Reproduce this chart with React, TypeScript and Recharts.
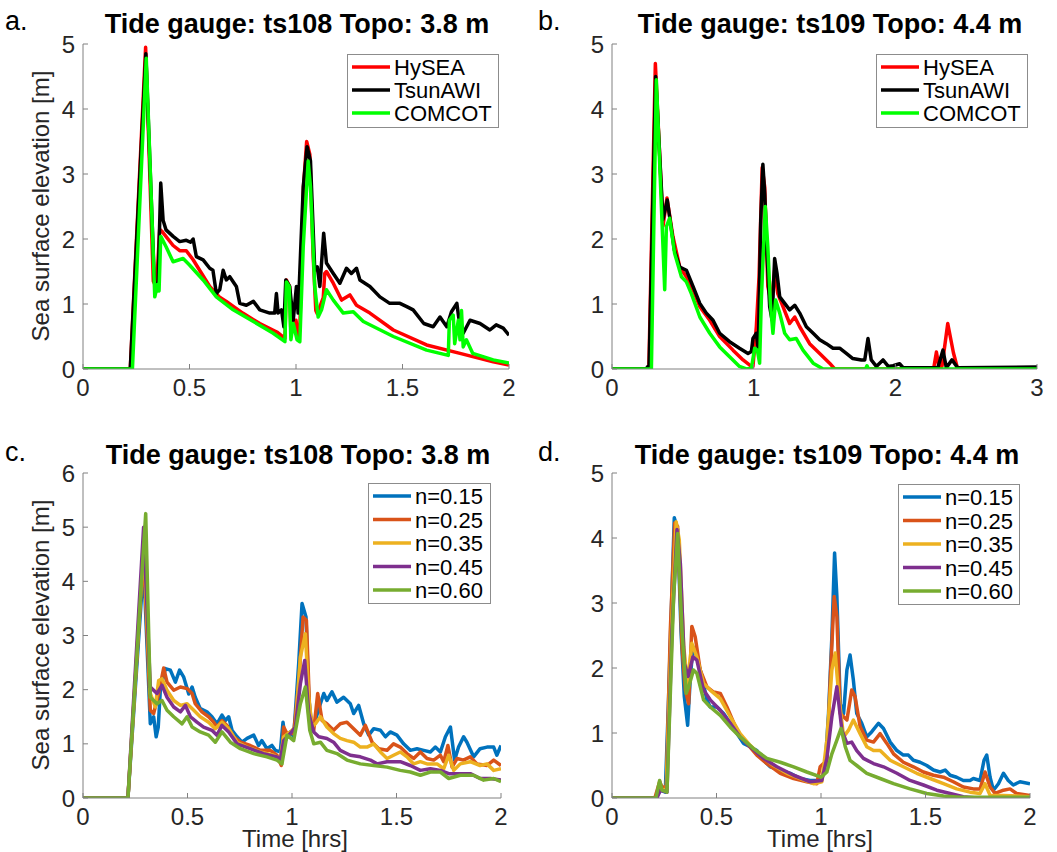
import { Legend, Line, LineChart, XAxis, YAxis } from 'recharts'

type Pt = [number, number]

// ---- panel a: ts108, three models (time [hrs], elevation [m]) ----
const hyseaA: Pt[] = [[0,0],[0.222,0],[0.294,4.95],[0.33,1.35],[0.345,1.25],[0.36,2.15],[0.37,2.12],[0.423,1.9],[0.454,1.82],[0.485,1.82],[0.517,1.68],[0.595,1.27],[0.64,1.11],[0.673,1.04],[0.75,0.86],[0.83,0.7],[0.91,0.57],[0.948,0.47],[0.955,1.37],[0.97,1.27],[0.976,0.55],[0.99,0.65],[1.0,0.75],[1.01,0.5],[1.018,0.6],[1.035,2.8],[1.05,3.5],[1.065,3.3],[1.08,1.78],[1.093,0.9],[1.1,0.85],[1.128,1.1],[1.135,1.47],[1.143,1.5],[1.175,1.32],[1.214,1.06],[1.253,1.14],[1.284,0.98],[1.347,0.86],[1.457,0.6],[1.613,0.37],[1.77,0.24],[1.926,0.11],[2.0,0.06]]
const tsunawiA: Pt[] = [[0,0],[0.222,0],[0.295,4.85],[0.335,1.35],[0.345,1.2],[0.352,1.27],[0.365,2.86],[0.376,2.29],[0.39,2.14],[0.423,2.04],[0.454,1.96],[0.485,1.98],[0.505,1.95],[0.517,2.0],[0.532,1.73],[0.564,1.68],[0.595,1.55],[0.61,1.52],[0.626,1.16],[0.642,1.22],[0.658,1.52],[0.673,1.37],[0.689,1.42],[0.72,1.27],[0.736,1.01],[0.767,0.98],[0.8,1.04],[0.83,0.91],[0.877,0.86],[0.9,0.86],[0.908,1.16],[0.916,0.86],[0.932,0.91],[0.943,0.65],[0.952,1.37],[0.97,1.27],[0.987,0.75],[1.002,1.27],[1.01,0.86],[1.034,2.8],[1.052,3.42],[1.068,3.2],[1.088,1.52],[1.1,1.57],[1.112,1.27],[1.13,2.09],[1.143,1.63],[1.175,1.47],[1.206,1.32],[1.237,1.55],[1.26,1.47],[1.284,1.55],[1.3,1.37],[1.347,1.27],[1.394,1.11],[1.44,1.01],[1.488,1.01],[1.52,0.96],[1.55,0.91],[1.6,0.7],[1.644,0.65],[1.676,0.8],[1.708,0.65],[1.73,0.88],[1.755,1.01],[1.77,0.65],[1.785,0.55],[1.817,0.75],[1.864,0.7],[1.91,0.6],[1.94,0.68],[1.973,0.63],[2.0,0.52]]
const comcotA: Pt[] = [[0,0],[0.232,0],[0.297,4.78],[0.337,1.11],[0.35,1.3],[0.357,1.2],[0.365,2.04],[0.39,1.88],[0.423,1.65],[0.47,1.7],[0.5,1.6],[0.564,1.37],[0.626,1.11],[0.705,0.91],[0.8,0.73],[0.893,0.55],[0.948,0.42],[0.955,1.34],[0.968,1.27],[0.976,0.45],[0.987,0.7],[1.005,0.45],[1.018,0.42],[1.034,1.88],[1.057,3.2],[1.068,2.8],[1.088,1.27],[1.104,0.8],[1.12,0.91],[1.143,1.22],[1.175,1.06],[1.222,0.86],[1.269,0.88],[1.316,0.73],[1.457,0.5],[1.613,0.29],[1.715,0.21],[1.72,0.75],[1.738,0.83],[1.745,0.39],[1.762,0.75],[1.77,0.45],[1.777,0.9],[1.785,0.34],[1.8,0.45],[1.83,0.24],[1.926,0.14],[2.0,0.09]]

// ---- panel b: ts109, three models ----
const hyseaB: Pt[] = [[0,0],[0.26,0],[0.306,4.7],[0.36,2.2],[0.388,2.63],[0.43,2.04],[0.478,1.57],[0.525,1.42],[0.572,1.22],[0.62,0.96],[0.69,0.75],[0.76,0.5],[0.854,0.29],[0.925,0.14],[0.984,0.04],[0.995,0.04],[1.019,0.65],[1.038,1.42],[1.06,3.1],[1.078,2.8],[1.1,1.27],[1.125,1.01],[1.148,1.52],[1.17,1.16],[1.207,0.96],[1.254,0.7],[1.29,0.8],[1.325,0.65],[1.395,0.39],[1.466,0.24],[1.536,0.09],[1.572,0],[2.27,0],[2.29,0.26],[2.31,0],[2.33,0.05],[2.37,0.7],[2.41,0.25],[2.44,0],[3,0]]
const tsunawiB: Pt[] = [[0,0],[0.24,0],[0.254,0.04],[0.262,0.04],[0.308,4.5],[0.36,2.3],[0.39,2.6],[0.44,1.83],[0.478,1.57],[0.525,1.52],[0.572,1.27],[0.62,1.01],[0.666,0.86],[0.713,0.75],[0.76,0.55],[0.83,0.42],[0.9,0.32],[0.96,0.24],[0.984,0.27],[0.995,0.47],[1.019,0.55],[1.033,0.29],[1.05,2.29],[1.065,3.15],[1.078,2.7],[1.094,1.78],[1.113,0.96],[1.13,0.75],[1.148,1.7],[1.165,1.47],[1.184,1.11],[1.219,1.01],[1.254,0.91],[1.29,0.98],[1.325,0.86],[1.372,0.65],[1.42,0.55],[1.466,0.45],[1.513,0.39],[1.56,0.32],[1.607,0.32],[1.654,0.24],[1.7,0.16],[1.76,0.14],[1.784,0.14],[1.807,0.47],[1.83,0.14],[1.866,0.04],[1.913,0.14],[1.95,0.04],[1.984,0.05],[2.03,0.08],[2.055,0.02],[2.3,0.02],[2.336,0.29],[2.36,0.02],[2.4,0.14],[2.44,0.02],[3,0.03]]
const comcotB: Pt[] = [[0,0],[0.278,0],[0.313,4.45],[0.372,1.22],[0.384,2.19],[0.407,2.32],[0.442,1.78],[0.49,1.42],[0.525,1.34],[0.56,1.16],[0.62,0.8],[0.69,0.55],[0.76,0.34],[0.83,0.19],[0.9,0.04],[0.948,0],[0.984,0.01],[1.007,0.32],[1.026,0.29],[1.042,0.09],[1.054,1.06],[1.082,2.5],[1.1,1.88],[1.118,1.01],[1.136,0.55],[1.155,1.06],[1.184,0.86],[1.219,0.55],[1.254,0.45],[1.3,0.47],[1.348,0.29],[1.42,0.09],[1.49,0],[1.79,0],[1.8,0.05],[1.81,0],[3,0]]

// ---- panel c: ts108, Manning n ----
const n15C: Pt[] = [[0,0],[0.215,0],[0.29,4.3],[0.322,1.37],[0.338,1.5],[0.35,1.13],[0.36,1.31],[0.37,1.99],[0.394,2.39],[0.418,2.36],[0.442,2.14],[0.462,2.36],[0.482,2.23],[0.506,1.92],[0.522,2.05],[0.537,1.86],[0.561,1.65],[0.593,1.59],[0.617,1.5],[0.641,1.37],[0.665,1.53],[0.681,1.43],[0.697,1.5],[0.713,1.25],[0.737,1.13],[0.761,1.03],[0.785,1.1],[0.817,1.16],[0.84,0.97],[0.856,1.06],[0.88,0.91],[0.904,0.97],[0.92,0.88],[0.944,0.85],[0.957,1.4],[0.968,1.06],[0.992,1.22],[1.008,1.13],[1.032,2.48],[1.048,3.59],[1.067,3.34],[1.08,1.86],[1.096,1.25],[1.112,1.43],[1.128,1.65],[1.152,1.93],[1.167,1.8],[1.191,1.96],[1.215,1.77],[1.247,1.86],[1.279,1.74],[1.295,1.56],[1.319,1.71],[1.343,1.37],[1.367,1.16],[1.391,1.28],[1.423,1.25],[1.447,1.13],[1.47,1.22],[1.502,1.16],[1.534,1.0],[1.566,0.88],[1.598,0.91],[1.63,0.88],[1.662,0.85],[1.686,0.94],[1.71,0.85],[1.734,1.13],[1.758,1.31],[1.778,0.7],[1.797,0.94],[1.821,1.13],[1.837,1.03],[1.869,0.76],[1.9,0.91],[1.933,0.94],[1.965,0.94],[1.98,0.79],[2.0,0.97]]
const n25C: Pt[] = [[0,0],[0.215,0],[0.29,4.55],[0.322,1.62],[0.338,1.56],[0.362,1.93],[0.386,2.4],[0.402,2.14],[0.434,1.99],[0.466,2.05],[0.498,2.02],[0.522,1.93],[0.537,1.74],[0.569,1.59],[0.601,1.5],[0.625,1.4],[0.641,1.31],[0.665,1.43],[0.689,1.34],[0.721,1.13],[0.753,1.03],[0.8,0.97],[0.848,0.88],[0.896,0.88],[0.928,0.79],[0.949,0.6],[0.96,1.31],[0.976,1.19],[1.008,1.19],[1.032,2.11],[1.053,3.34],[1.069,3.28],[1.085,1.56],[1.104,1.25],[1.123,1.93],[1.144,1.43],[1.167,1.37],[1.199,1.25],[1.231,1.37],[1.263,1.4],[1.295,1.28],[1.327,1.16],[1.351,1.34],[1.383,1.03],[1.415,0.91],[1.455,0.88],[1.486,1.0],[1.518,0.94],[1.55,0.82],[1.582,0.73],[1.614,0.85],[1.646,0.73],[1.678,0.7],[1.71,0.79],[1.726,0.67],[1.746,0.97],[1.766,0.57],[1.79,0.73],[1.82,0.7],[1.853,0.76],[1.885,0.63],[1.933,0.6],[1.965,0.7],[2.0,0.6]]
const n35C: Pt[] = [[0,0],[0.215,0],[0.29,4.7],[0.322,1.93],[0.346,1.68],[0.362,2.17],[0.378,2.2],[0.402,1.99],[0.434,1.8],[0.466,1.71],[0.498,1.74],[0.53,1.62],[0.561,1.5],[0.601,1.4],[0.633,1.28],[0.665,1.4],[0.697,1.28],[0.737,1.03],[0.785,0.94],[0.848,0.85],[0.912,0.79],[0.944,0.73],[0.96,1.13],[0.992,1.22],[1.016,1.31],[1.04,2.6],[1.064,3.03],[1.08,1.86],[1.096,1.31],[1.112,1.37],[1.136,1.5],[1.167,1.31],[1.199,1.19],[1.231,1.1],[1.263,1.06],[1.295,1.03],[1.327,0.94],[1.359,0.94],[1.391,1.0],[1.423,0.85],[1.455,0.73],[1.486,0.79],[1.518,0.85],[1.55,0.76],[1.582,0.63],[1.614,0.67],[1.646,0.63],[1.694,0.63],[1.726,0.54],[1.75,0.79],[1.774,0.51],[1.805,0.63],[1.853,0.67],[1.9,0.6],[1.933,0.63],[1.965,0.51],[2.0,0.54]]
const n45C: Pt[] = [[0,0],[0.215,0],[0.29,5.0],[0.322,2.05],[0.354,1.93],[0.378,2.08],[0.402,1.86],[0.434,1.68],[0.466,1.59],[0.49,1.71],[0.514,1.5],[0.545,1.4],[0.577,1.31],[0.617,1.25],[0.641,1.16],[0.665,1.34],[0.697,1.22],[0.737,1.0],[0.8,0.91],[0.864,0.82],[0.928,0.76],[0.944,0.7],[0.96,1.06],[0.992,1.19],[1.016,1.31],[1.04,2.11],[1.061,2.54],[1.08,1.56],[1.104,1.22],[1.128,1.13],[1.167,1.1],[1.199,1.03],[1.231,0.88],[1.279,0.79],[1.327,0.76],[1.375,0.7],[1.407,0.63],[1.455,0.67],[1.518,0.67],[1.566,0.6],[1.614,0.51],[1.662,0.54],[1.71,0.51],[1.75,0.45],[1.79,0.45],[1.853,0.45],[1.9,0.36],[1.949,0.36],[2.0,0.33]]
const n60C: Pt[] = [[0,0],[0.215,0],[0.3,5.25],[0.322,1.86],[0.354,1.74],[0.378,1.8],[0.402,1.62],[0.434,1.5],[0.474,1.37],[0.498,1.5],[0.522,1.31],[0.561,1.22],[0.601,1.16],[0.633,1.03],[0.665,1.22],[0.705,1.03],[0.753,0.91],[0.817,0.82],[0.88,0.76],[0.928,0.7],[0.952,0.63],[0.976,1.16],[1.008,1.06],[1.04,1.74],[1.064,2.05],[1.085,1.25],[1.104,1.0],[1.136,1.03],[1.167,0.88],[1.215,0.82],[1.263,0.7],[1.327,0.63],[1.391,0.6],[1.455,0.57],[1.518,0.51],[1.566,0.48],[1.614,0.42],[1.662,0.48],[1.71,0.48],[1.75,0.36],[1.805,0.42],[1.869,0.42],[1.917,0.33],[1.965,0.36],[2.0,0.3]]

// ---- panel d: ts109, Manning n ----
const n15D: Pt[] = [[0,0],[0.207,0],[0.223,0.07],[0.231,0.12],[0.255,0.09],[0.271,1.56],[0.298,4.31],[0.314,4.13],[0.33,2.58],[0.346,1.56],[0.362,1.12],[0.374,1.81],[0.387,2.33],[0.406,2.17],[0.43,1.87],[0.454,1.51],[0.47,1.4],[0.502,1.4],[0.534,1.3],[0.566,1.15],[0.598,0.99],[0.629,0.84],[0.661,0.79],[0.693,0.73],[0.725,0.58],[0.757,0.48],[0.805,0.43],[0.853,0.38],[0.9,0.3],[0.948,0.27],[0.98,0.27],[1.004,0.3],[1.02,0.5],[1.036,1.3],[1.052,2.48],[1.065,3.77],[1.076,3.1],[1.092,1.45],[1.108,1.3],[1.124,1.97],[1.139,2.2],[1.155,1.81],[1.171,1.3],[1.195,1.15],[1.219,0.94],[1.243,1.02],[1.275,1.15],[1.299,1.07],[1.331,0.86],[1.363,0.73],[1.394,0.66],[1.418,0.66],[1.442,0.58],[1.474,0.55],[1.506,0.5],[1.538,0.43],[1.57,0.4],[1.594,0.43],[1.618,0.35],[1.649,0.32],[1.681,0.27],[1.713,0.27],[1.729,0.3],[1.761,0.27],[1.78,0.58],[1.793,0.66],[1.809,0.32],[1.825,0.12],[1.849,0.22],[1.873,0.38],[1.896,0.27],[1.92,0.2],[1.952,0.25],[2.0,0.22]]
const n25D: Pt[] = [[0,0],[0.205,0],[0.228,0.25],[0.239,0.17],[0.26,0.17],[0.279,2.58],[0.3,4.23],[0.314,4.18],[0.335,2.33],[0.351,1.66],[0.367,1.45],[0.382,2.64],[0.398,2.48],[0.422,1.97],[0.454,1.71],[0.486,1.63],[0.518,1.61],[0.55,1.4],[0.598,1.04],[0.645,0.84],[0.693,0.66],[0.741,0.53],[0.805,0.38],[0.869,0.3],[0.932,0.25],[0.98,0.22],[0.996,0.48],[1.012,0.53],[1.028,0.53],[1.044,1.81],[1.063,3.1],[1.076,2.79],[1.092,1.3],[1.124,1.2],[1.147,1.66],[1.163,1.56],[1.187,1.1],[1.219,0.89],[1.251,0.86],[1.283,0.99],[1.315,0.84],[1.347,0.68],[1.394,0.55],[1.442,0.48],[1.49,0.4],[1.538,0.35],[1.586,0.32],[1.633,0.25],[1.681,0.17],[1.729,0.14],[1.761,0.14],[1.785,0.4],[1.809,0.17],[1.833,0.07],[1.873,0.12],[1.904,0.14],[1.936,0.07],[2.0,0.04]]
const n35D: Pt[] = [[0,0],[0.21,0],[0.231,0.14],[0.26,0.12],[0.284,2.58],[0.307,4.25],[0.322,3.97],[0.343,2.33],[0.362,1.76],[0.382,2.38],[0.406,2.17],[0.438,1.76],[0.47,1.66],[0.518,1.53],[0.566,1.25],[0.613,0.99],[0.661,0.81],[0.709,0.66],[0.773,0.5],[0.837,0.38],[0.9,0.3],[0.964,0.22],[1.004,0.25],[1.028,0.89],[1.052,1.97],[1.068,2.23],[1.084,1.61],[1.108,0.94],[1.131,1.04],[1.155,1.2],[1.187,0.99],[1.219,0.79],[1.251,0.73],[1.283,0.73],[1.331,0.58],[1.394,0.48],[1.458,0.38],[1.522,0.3],[1.586,0.22],[1.649,0.14],[1.713,0.09],[1.761,0.07],[1.785,0.22],[1.809,0.04],[1.873,0.04],[2.0,0.02]]
const n45D: Pt[] = [[0,0],[0.215,0],[0.231,0.12],[0.263,0.09],[0.287,2.58],[0.311,4.13],[0.327,3.61],[0.346,2.07],[0.365,1.87],[0.387,2.17],[0.406,2.12],[0.438,1.66],[0.47,1.51],[0.518,1.35],[0.566,1.15],[0.613,0.94],[0.661,0.79],[0.725,0.61],[0.789,0.48],[0.869,0.35],[0.948,0.25],[1.004,0.27],[1.028,0.61],[1.052,1.25],[1.076,1.71],[1.1,1.04],[1.124,0.84],[1.147,0.86],[1.171,0.73],[1.203,0.61],[1.251,0.53],[1.299,0.48],[1.363,0.38],[1.426,0.27],[1.49,0.2],[1.554,0.12],[1.618,0.07],[1.681,0.02],[1.745,0],[2.0,0]]
const n60D: Pt[] = [[0,0],[0.21,0],[0.228,0.27],[0.239,0.12],[0.263,0.09],[0.295,3.1],[0.314,4.07],[0.335,2.58],[0.355,1.61],[0.367,1.71],[0.39,1.97],[0.406,1.92],[0.438,1.51],[0.47,1.4],[0.518,1.27],[0.566,1.09],[0.613,0.94],[0.677,0.76],[0.741,0.61],[0.805,0.55],[0.869,0.48],[0.932,0.4],[1.0,0.32],[1.028,0.4],[1.052,0.68],[1.076,0.89],[1.096,1.07],[1.116,0.79],[1.139,0.58],[1.171,0.5],[1.219,0.38],[1.283,0.3],[1.347,0.22],[1.426,0.14],[1.506,0.07],[1.586,0.03],[1.665,0.01],[2.0,0.01]]

const modelNames = ['HySEA', 'TsunAWI', 'COMCOT']
const modelColors = ['#ff0000', '#000000', '#00ff00']
const nNames = ['n=0.15', 'n=0.25', 'n=0.35', 'n=0.45', 'n=0.60']
const nColors = ['#0072bd', '#d95319', '#edb120', '#7e2f8e', '#77ac30']

const xTicks2 = [0, 0.5, 1, 1.5, 2]
const xTicks3 = [0, 1, 2, 3]
const yTicks5 = [0, 1, 2, 3, 4, 5]
const yTicks6 = [0, 1, 2, 3, 4, 5, 6]

const AXIS = '#808080'
const TXT = '#262626'
const FONT = '"Liberation Sans", Arial, Helvetica, sans-serif'

interface Series {
  name: string
  color: string
  pts: Pt[]
}

interface PanelProps {
  left: number
  top: number
  width: number
  height: number
  margin: { top: number; right: number; bottom: number; left: number }
  xMax: number
  xTicks: number[]
  yMax: number
  yTicks: number[]
  series: Series[]
  legend: { left: number; top: number; w: number; h: number; step: number }
}

function LegendBox({ items, w, h, step }: { items: Series[]; w: number; h: number; step: number }) {
  return (
    <div style={{ width: w, height: h, border: '1px solid #8c8c8c', background: '#fff', boxSizing: 'border-box' }}>
      <svg width={w - 2} height={h - 2} style={{ display: 'block' }}>
        {items.map((s, i) => {
          const y = 12 + i * step
          return (
            <g key={s.name}>
              <line x1={4} x2={42} y1={y} y2={y} stroke={s.color} strokeWidth={3.5} />
              <text x={46} y={y + 8} fontSize={22} fill="#000" fontFamily={FONT}>
                {s.name}
              </text>
            </g>
          )
        })}
      </svg>
    </div>
  )
}

function Panel(p: PanelProps) {
  return (
    <div style={{ position: 'absolute', left: p.left, top: p.top }}>
      <LineChart width={p.width} height={p.height} margin={p.margin}>
        <XAxis
          type="number"
          dataKey="t"
          domain={[0, p.xMax]}
          ticks={p.xTicks}
          interval={0}
          allowDataOverflow
          height={30}
          axisLine={{ stroke: AXIS }}
          tickLine={{ stroke: AXIS }}
          tickSize={-5}
          tickMargin={15}
          tick={{ fill: TXT, fontSize: 24 }}
        />
        <YAxis
          type="number"
          domain={[0, p.yMax]}
          ticks={p.yTicks}
          interval={0}
          allowDataOverflow
          width={60}
          axisLine={{ stroke: AXIS }}
          tickLine={{ stroke: AXIS }}
          tickSize={-5}
          tickMargin={13}
          tick={{ fill: TXT, fontSize: 24 }}
        />
        {p.series.map((s) => (
          <Line
            key={s.name}
            data={s.pts.map(([t, v]) => ({ t, v }))}
            dataKey="v"
            type="linear"
            stroke={s.color}
            strokeWidth={3.5}
            strokeLinejoin="round"
            dot={false}
            activeDot={false}
            isAnimationActive={false}
          />
        ))}
        <Legend
          layout="vertical"
          align="center"
          verticalAlign="middle"
          wrapperStyle={{ left: p.legend.left, top: p.legend.top, width: p.legend.w, height: p.legend.h }}
          content={() => <LegendBox items={p.series} w={p.legend.w} h={p.legend.h} step={p.legend.step} />}
        />
      </LineChart>
    </div>
  )
}

const modelSeries = (pts: Pt[][]): Series[] => pts.map((d, i) => ({ name: modelNames[i], color: modelColors[i], pts: d }))
const nSeries = (pts: Pt[][]): Series[] => pts.map((d, i) => ({ name: nNames[i], color: nColors[i], pts: d }))

export default function App() {
  const ylab = 'Sea surface elevation [m]'
  return (
    <div style={{ position: 'absolute', left: 0, top: 0, width: 1057, height: 852, background: '#fff', fontFamily: FONT }}>
      <Panel
        left={0}
        top={0}
        width={530}
        height={420}
        margin={{ top: 44, right: 21, bottom: 21, left: 23 }}
        xMax={2}
        xTicks={xTicks2}
        yMax={5}
        yTicks={yTicks5}
        series={modelSeries([hyseaA, tsunawiA, comcotA])}
        legend={{ left: 347, top: 54, w: 152, h: 74, step: 23 }}
      />
      <Panel
        left={530}
        top={0}
        width={527}
        height={420}
        margin={{ top: 44, right: 20, bottom: 21, left: 22 }}
        xMax={3}
        xTicks={xTicks3}
        yMax={5}
        yTicks={yTicks5}
        series={modelSeries([hyseaB, tsunawiB, comcotB])}
        legend={{ left: 346, top: 54, w: 152, h: 74, step: 23 }}
      />
      <Panel
        left={0}
        top={420}
        width={530}
        height={432}
        margin={{ top: 53, right: 29, bottom: 24, left: 23 }}
        xMax={2}
        xTicks={xTicks2}
        yMax={6}
        yTicks={yTicks6}
        series={nSeries([n15C, n25C, n35C, n45C, n60C])}
        legend={{ left: 368, top: 63, w: 123, h: 121, step: 23.5 }}
      />
      <Panel
        left={530}
        top={420}
        width={527}
        height={432}
        margin={{ top: 53, right: 27, bottom: 24, left: 22 }}
        xMax={2}
        xTicks={xTicks2}
        yMax={5}
        yTicks={yTicks5}
        series={nSeries([n15D, n25D, n35D, n45D, n60D])}
        legend={{ left: 368, top: 64, w: 122, h: 121, step: 23.5 }}
      />
      <svg width={1057} height={852} style={{ position: 'absolute', left: 0, top: 0, pointerEvents: 'none' }} fontFamily={FONT}>
        <text x={5} y={30} fontSize={27} fill="#000">a.</text>
        <text x={538} y={30} fontSize={27} fill="#000">b.</text>
        <text x={5} y={461} fontSize={27} fill="#000">c.</text>
        <text x={538} y={461} fontSize={27} fill="#000">d.</text>
        <text x={297} y={33} fontSize={27} fontWeight="bold" textAnchor="middle" fill="#000">Tide gauge: ts108 Topo: 3.8 m</text>
        <text x={830} y={33} fontSize={27} fontWeight="bold" textAnchor="middle" fill="#000">Tide gauge: ts109 Topo: 4.4 m</text>
        <text x={298} y={464} fontSize={27} fontWeight="bold" textAnchor="middle" fill="#000">Tide gauge: ts108 Topo: 3.8 m</text>
        <text x={827} y={464} fontSize={27} fontWeight="bold" textAnchor="middle" fill="#000">Tide gauge: ts109 Topo: 4.4 m</text>
        <text x={49} y={206} fontSize={24} textAnchor="middle" fill={TXT} transform="rotate(-90 49 206)">{ylab}</text>
        <text x={49} y={635} fontSize={24} textAnchor="middle" fill={TXT} transform="rotate(-90 49 635)">{ylab}</text>
        <text x={295} y={847} fontSize={24} textAnchor="middle" fill={TXT}>Time [hrs]</text>
        <text x={820} y={847} fontSize={24} textAnchor="middle" fill={TXT}>Time [hrs]</text>
      </svg>
    </div>
  )
}
